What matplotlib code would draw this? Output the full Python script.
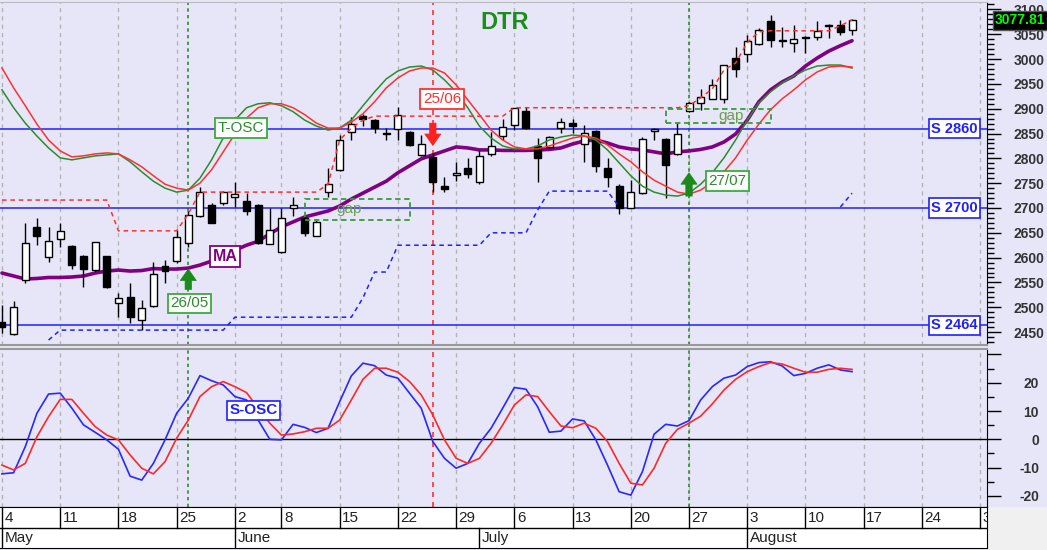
import matplotlib
matplotlib.use('Agg')
import matplotlib.pyplot as plt
from matplotlib.patches import Rectangle
import matplotlib.transforms as mtrans
import numpy as np

plt.rcParams['font.family'] = ['Liberation Sans', 'DejaVu Sans']

# ---------------- data (trading-day index 0 = 4 May 2020 ... 73 = 14 Aug 2020) ----------------
week_pos = [0, 5, 10, 15, 20, 24, 29, 34, 39, 44, 49, 54, 59, 64, 69, 74, 79, 84]
week_labels = ['4', '11', '18', '25', '2', '8', '15', '22', '29', '6', '13', '20', '27',
               '3', '10', '17', '24', '31']
month_pos = [0, 20, 41, 64]
month_labels = ['May', 'June', 'July', 'August']

opens = [2471, 2446, 2555, 2662, 2602, 2638, 2623, 2603, 2575, 2603,
         2509, 2520, 2474, 2502, 2584, 2593, 2630, 2684, 2706, 2711,
         2723, 2714, 2707, 2627, 2612, 2699, 2679, 2644, 2733, 2777,
         2854, 2885, 2877, 2852, 2859, 2854, 2807, 2803, 2745, 2767,
         2780, 2753, 2808, 2846, 2867, 2896, 2824, 2822, 2861, 2871,
         2828, 2855, 2781, 2744, 2701, 2730, 2856, 2840, 2808, 2896,
         2911, 2920, 2920, 3002, 3010, 3031, 3076, 3036, 3032, 3044,
         3045, 3066, 3069, 3058]
highs = [2504, 2513, 2669, 2679, 2662, 2669, 2625, 2605, 2632, 2604,
         2528, 2548, 2515, 2592, 2595, 2656, 2693, 2743, 2710, 2735,
         2753, 2730, 2708, 2699, 2699, 2723, 2683, 2675, 2780, 2847,
         2884, 2890, 2879, 2862, 2904, 2855, 2847, 2810, 2763, 2793,
         2800, 2817, 2854, 2879, 2902, 2904, 2842, 2845, 2881, 2879,
         2867, 2857, 2800, 2748, 2756, 2844, 2862, 2842, 2871, 2914,
         2939, 2959, 2989, 3025, 3049, 3062, 3089, 3064, 3069, 3046,
         3076, 3070, 3079, 3080]
lows = [2448, 2444, 2548, 2625, 2592, 2621, 2578, 2541, 2572, 2538,
        2481, 2468, 2454, 2500, 2548, 2590, 2621, 2682, 2669, 2706,
        2703, 2686, 2628, 2627, 2610, 2683, 2643, 2643, 2722, 2775,
        2837, 2866, 2851, 2837, 2837, 2825, 2805, 2733, 2733, 2754,
        2760, 2748, 2805, 2836, 2857, 2860, 2753, 2820, 2851, 2851,
        2793, 2773, 2743, 2687, 2700, 2729, 2837, 2720, 2806, 2893,
        2898, 2919, 2911, 2964, 2994, 3029, 3025, 3025, 3015, 3013,
        3039, 3042, 3048, 3049]
closes = [2461, 2501, 2630, 2644, 2633, 2654, 2585, 2578, 2631, 2540,
          2518, 2481, 2498, 2568, 2574, 2642, 2686, 2733, 2669, 2733,
          2728, 2693, 2629, 2656, 2679, 2707, 2649, 2671, 2748, 2837,
          2869, 2880, 2862, 2849, 2887, 2826, 2828, 2753, 2738, 2771,
          2769, 2805, 2824, 2863, 2901, 2861, 2800, 2844, 2874, 2865,
          2851, 2785, 2762, 2701, 2732, 2840, 2859, 2787, 2849, 2911,
          2923, 2948, 2988, 2981, 3037, 3059, 3039, 3038, 3041, 3043,
          3057, 3068, 3054, 3077.81]

ma = [2569, 2563, 2557, 2558, 2560, 2560, 2561, 2563, 2569, 2573,
      2575, 2573, 2574, 2578, 2577, 2577, 2579, 2585, 2593, 2605,
      2615, 2625, 2633, 2648, 2662, 2672, 2682, 2688, 2694, 2704,
      2718, 2730, 2742, 2754, 2771, 2785, 2799, 2807, 2815, 2823,
      2821, 2817, 2817, 2816, 2816, 2816, 2817, 2818, 2821, 2829,
      2835, 2837, 2831, 2823, 2819, 2817, 2813, 2809, 2813, 2815,
      2818, 2823, 2833, 2849, 2877, 2914, 2938, 2954, 2966, 2986,
      3002, 3016, 3027, 3037]

tosc_green = [2938, 2902, 2871, 2845, 2821, 2801, 2797, 2801, 2805, 2807,
              2809, 2793, 2773, 2754, 2740, 2732, 2736, 2760, 2797, 2841,
              2877, 2902, 2910, 2912, 2906, 2894, 2877, 2865, 2857, 2861,
              2877, 2906, 2934, 2960, 2976, 2984, 2986, 2978, 2958, 2934,
              2902, 2865, 2841, 2825, 2819, 2819, 2825, 2837, 2843, 2847,
              2845, 2837, 2817, 2791, 2765, 2744, 2732, 2726, 2724, 2730,
              2748, 2771, 2801, 2837, 2877, 2912, 2934, 2952, 2966, 2978,
              2986, 2988, 2988, 2982]
tosc_red = [2982, 2942, 2906, 2869, 2837, 2815, 2803, 2805, 2809, 2811,
            2809, 2797, 2783, 2765, 2748, 2740, 2736, 2750, 2777, 2813,
            2849, 2881, 2902, 2910, 2910, 2902, 2888, 2871, 2861, 2861,
            2873, 2890, 2914, 2942, 2962, 2976, 2982, 2982, 2972, 2948,
            2918, 2888, 2857, 2837, 2823, 2819, 2819, 2825, 2833, 2841,
            2845, 2841, 2827, 2809, 2793, 2773, 2756, 2744, 2732, 2728,
            2736, 2752, 2773, 2801, 2837, 2869, 2898, 2920, 2938, 2958,
            2974, 2984, 2986, 2984]

stop_upper = [2716] * 10 + [2654] * 6 + [2688] + [2732] * 11 + [2748, 2837, 2861, 2877] \
    + [2885] * 12 + [2902] * 15 + [2906, 2922, 2940, 2978, 2992, 3033, 3055] \
    + [3057] * 6 + [3067, 3079]
nan = float('nan')
stop_lower = [nan] * 4 + [2434] + [2454] * 15 + [2480] * 11 + [2519] + [2571] * 2 \
    + [2625] * 8 + [2650] * 4 + [2696] + [2734] * 6 + [2702] + [nan] * 18 + [2702, 2730]

sosc_blue = [-12.2, -11.8, -2.6, 9.2, 16.0, 16.3, 11.0, 5.1, 2.5, -0.2,
             -3.5, -13.0, -14.4, -8.5, -0.2, 9.2, 14.5, 22.5, 20.7, 19.2,
             15.1, 13.9, 6.8, 0.0, -0.2, 5.3, 4.2, 2.4, 3.9, 13.3,
             22.4, 26.9, 26.0, 22.7, 21.6, 16.3, 11.0, -0.8, -6.7, -10.2,
             -8.5, -1.4, 3.9, 11.0, 18.3, 17.7, 11.5, 2.5, 2.9, 7.2,
             6.5, -0.2, -9.1, -18.5, -19.7, -11.4, 1.8, 5.3, 4.7, 6.6,
             13.9, 18.6, 21.6, 22.7, 25.7, 27.1, 27.4, 25.9, 22.5, 23.3,
             25.1, 26.3, 24.5, 23.9]
sosc_red = [-9.1, -10.8, -8.5, 0.9, 8.0, 14.1, 14.1, 9.2, 4.5, 1.5,
            -0.2, -5.5, -10.2, -12.2, -7.9, 0.4, 6.8, 15.1, 18.6, 20.4,
            18.6, 16.5, 11.0, 5.7, 1.5, 1.9, 2.7, 3.9, 3.9, 6.8,
            13.9, 21.2, 25.1, 25.1, 23.7, 20.4, 15.7, 8.6, -0.2, -6.7,
            -8.5, -6.7, -1.4, 5.1, 12.1, 15.7, 15.1, 9.8, 4.7, 4.1,
            5.7, 3.9, -0.8, -8.5, -15.5, -16.1, -10.2, -1.4, 3.5, 5.7,
            8.2, 12.5, 17.4, 21.2, 23.9, 25.7, 27.1, 26.6, 25.1, 23.7,
            23.7, 24.7, 25.1, 24.7]

supports = [2860, 2700, 2464]
signal_days = [16, 37, 59]
signal_labels = ['26/05', '25/06', '27/07']
signal_dirs = ['up', 'down', 'up']
arrow_tail = [2536, 2871, 2724]
arrow_tip = [2577, 2826, 2771]
gap_start = [26, 57]
gap_end = [35, 66]
gap_low = [2676, 2871]
gap_high = [2719, 2900]
gap_text_x = [29.8, 62.6]

# ---------------- styling ----------------
LAV = '#E6E6F8'
GREEN = '#2E8B2E'
RED = '#FF3030'
BLUE = '#2020FF'
PURPLE = '#800080'
W, H = 1047, 550

fig = plt.figure(figsize=(W / 100, H / 100), dpi=100, facecolor=LAV)


def fy(py):
    return 1 - py / H


ax1 = fig.add_axes([0, fy(345), 987 / W, 343 / H])
ax2 = fig.add_axes([0, fy(507), 987 / W, 158 / H])
ax3 = fig.add_axes([0, fy(548), 987 / W, 41 / H])
fig.add_artist(Rectangle((987 / W, 0), 60 / W, fy(507), transform=fig.transFigure,
                         fc='#F0F0F0', ec='none', zorder=-5))

XL = (-0.17, 84.59)
n = len(closes)
x = np.arange(n)

for ax in (ax1, ax2):
    ax.set_facecolor(LAV)
    ax.set_xlim(*XL)
    ax.set_xticks([])
    ax.spines['left'].set_visible(False)
    ax.spines['right'].set_color('black')
    ax.yaxis.tick_right()
    for wp in week_pos:
        ax.axvline(wp, color='#B4B4B4', lw=1, ls=(0, (3, 3)), zorder=1)
    for d, dr in zip(signal_days, signal_dirs):
        col = GREEN if dr == 'up' else RED
        ls = (0, (2, 2)) if dr == 'up' else (0, (3, 3))
        ax.axvline(d, color=col, lw=1.2, ls=ls, zorder=2)

# ---- main panel ----
ax1.set_ylim(2424, 3115)
ax1.spines['top'].set_color('#BBBBBB')
ax1.spines['bottom'].set_color('#999999')
ax1.spines['bottom'].set_linewidth(1.5)

for s in supports:
    ax1.axhline(s, color=BLUE, lw=1.1, zorder=3)

ax1.plot(x, ma, color=PURPLE, lw=2.6, zorder=3.5, solid_capstyle='round')

o = np.array(opens, float)
c = np.array(closes, float)
up = c >= o
ax1.vlines(x, lows, highs, color='black', lw=1, zorder=5)
body_h = np.maximum(np.abs(c - o), 1.2)
ax1.bar(x, body_h, bottom=np.minimum(o, c), width=0.6,
        color=['white' if u else 'black' for u in up], edgecolor='black',
        linewidth=1, zorder=6)

ax1.plot(x, tosc_green, color=GREEN, lw=1.1, zorder=7)
ax1.plot(x, tosc_red, color=RED, lw=1.1, zorder=7)
ax1.plot(x, stop_upper, color=RED, lw=1.1, ls=(0, (3, 2.5)), zorder=7)
ax1.plot(x, stop_lower, color=BLUE, lw=1.1, ls=(0, (3, 2.5)), zorder=7)

for gs, ge, gl, gh, gx in zip(gap_start, gap_end, gap_low, gap_high, gap_text_x):
    ax1.add_patch(Rectangle((gs, gl), ge - gs, gh - gl, fill=False, ec='#3A9A3A',
                            lw=1.3, ls=(0, (3, 2)), zorder=7))
    ax1.text(gx, (gl + gh) / 2, 'gap', color='#6E9E4E', fontsize=11,
             ha='center', va='center', zorder=8)

# signal arrows
for d, dr, t0, t1 in zip(signal_days, signal_dirs, arrow_tail, arrow_tip):
    col = '#1A8A1A' if dr == 'up' else '#FF2020'
    ax1.annotate('', xy=(d, t1), xytext=(d, t0),
                 arrowprops=dict(arrowstyle='simple,head_length=0.75,head_width=1.05,tail_width=0.42',
                                 mutation_scale=11, fc=col, ec=col, lw=0.5,
                                 shrinkA=0, shrinkB=0), zorder=9)

label_box = dict(boxstyle='square,pad=0.18', fc='white', lw=1.3)
ax1.text(16.1, 2508, '26/05', color=GREEN, fontsize=11, ha='center', va='center', zorder=10,
         bbox=dict(label_box, ec='#3CAA3C'))
ax1.text(37.8, 2920, '25/06', color=RED, fontsize=11, ha='center', va='center', zorder=10,
         bbox=dict(label_box, ec=RED))
ax1.text(62.3, 2754, '27/07', color=GREEN, fontsize=11, ha='center', va='center', zorder=10,
         bbox=dict(label_box, ec='#3CAA3C'))
ax1.text(20.5, 2861, 'T-OSC', color=GREEN, fontsize=11, ha='center', va='center', zorder=10,
         bbox=dict(label_box, ec='#3CAA3C'))
ax1.text(19.15, 2603, 'MA', color=PURPLE, fontsize=11.5, fontweight='bold', ha='center',
         va='center', zorder=10, bbox=dict(label_box, ec=PURPLE))
for s in supports:
    ax1.text(81.8, s, f'S {s}', color=BLUE, fontsize=10.5, fontweight='bold', ha='center',
             va='center', zorder=10, bbox=dict(label_box, ec=BLUE, lw=1.2))
ax1.text(43.2, 3073, 'DTR', color='#1C8C1C', fontsize=17, fontweight='bold',
         ha='center', va='center', zorder=10)

ax1.set_yticks(list(range(2450, 3101, 50)))
ax1.set_yticks(list(range(2430, 3111, 10)), minor=True)
ax1.tick_params(axis='y', which='major', length=10, width=1, pad=31.5,
                labelsize=10, labelcolor='#333333', color='black')
ax1.tick_params(axis='y', which='minor', length=5, width=1, color='black')
for lbl in ax1.get_yticklabels():
    lbl.set_ha('right')
    lbl.set_fontweight('bold')

trans = mtrans.blended_transform_factory(ax1.transAxes, ax1.transData)
ax1.text(1020 / 987, closes[-1], f'{closes[-1]:.2f}', transform=trans, color='#00FF00',
         fontsize=10, fontweight='bold', ha='center', va='center', clip_on=False, zorder=20,
         bbox=dict(boxstyle='square,pad=0.15', fc='black', ec='#555555', lw=1))

# ---- oscillator panel ----
ax2.set_ylim(-23.9, 31.9)
ax2.spines['top'].set_color('#999999')
ax2.spines['top'].set_linewidth(1.5)
ax2.spines['bottom'].set_color('black')
ax2.axhline(0, color='black', lw=1, zorder=3)
ax2.plot(x, sosc_blue, color='#2828FF', lw=1.2, zorder=5)
ax2.plot(x, sosc_red, color='#FF2828', lw=1.2, zorder=5)
ax2.text(21.6, 10.2, 'S-OSC', color=BLUE, fontsize=11, fontweight='bold', ha='center',
         va='center', zorder=10, bbox=dict(label_box, ec=BLUE, lw=1.2))
ax2.set_yticks([-20, -10, 0, 10, 20, 30])
ax2.set_yticklabels(['-20', '-10', '0', '10', '20', ''])
ax2.set_yticks(list(range(-20, 31, 5)), minor=True)
ax2.tick_params(axis='y', which='major', length=10, width=1, pad=27.5,
                labelsize=10, labelcolor='#333333', color='black')
ax2.tick_params(axis='y', which='minor', length=5, width=1, color='black')
for lbl in ax2.get_yticklabels():
    lbl.set_ha('right')
    lbl.set_fontweight('bold')

# ---- date axis ----
ax3.set_facecolor('white')
ax3.set_xlim(*XL)
ax3.set_ylim(0, 2)
ax3.set_xticks([])
ax3.set_yticks([])
ax3.spines['left'].set_visible(False)
for sp in ('top', 'bottom', 'right'):
    ax3.spines[sp].set_color('black')
ax3.axhline(1, color='black', lw=1)
for wp, wl in zip(week_pos, week_labels):
    ax3.plot([wp, wp], [1, 2], color='black', lw=1, clip_on=True)
    ax3.text(wp + 0.22, 1.48, wl, ha='left', va='center', fontsize=11, color='#222222',
             clip_on=True)
for mp, ml in zip(month_pos, month_labels):
    ax3.plot([mp, mp], [0, 1], color='black', lw=1, clip_on=True)
    ax3.text(mp + 0.22, 0.48, ml, ha='left', va='center', fontsize=11, color='#222222',
             clip_on=True)

fig.savefig('out.png', dpi=100, facecolor=LAV)
